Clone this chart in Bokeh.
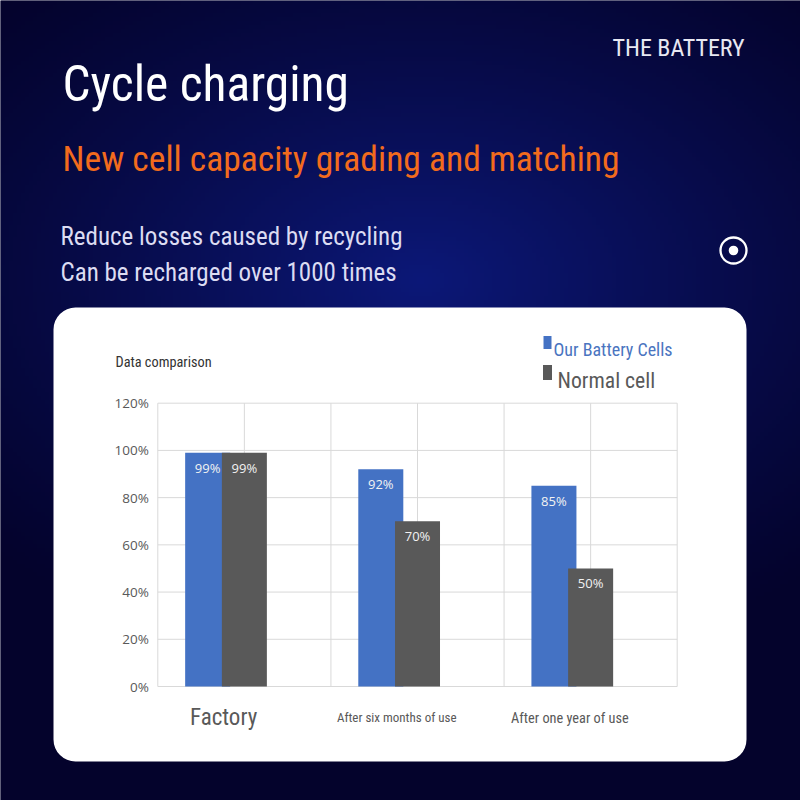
import numpy as np
from bokeh.plotting import figure
from bokeh.models import Range1d, BoxAnnotation, ColumnDataSource
from bokeh.core.properties import value
from bokeh.embed import file_html
from bokeh.resources import INLINE

# ---------------- data ----------------
categories = ["Factory", "After six months of use", "After one year of use"]
our_cells = [99, 92, 85]
normal_cells = [99, 70, 50]
series_names = ["Our Battery Cells", "Normal cell"]
y_ticks = [0, 20, 40, 60, 80, 100, 120]
y_tick_labels = ["0%", "20%", "40%", "60%", "80%", "100%", "120%"]

title = "Cycle charging"
subtitle = "New cell capacity grading and matching"
lines = ["Reduce losses caused by recycling", "Can be recharged over 1000 times"]
brand = "THE BATTERY"
chart_caption = "Data comparison"

# ---------------- layout ----------------
W = H = 800
NARROW = value("Roboto Condensed, DejaVu Sans Condensed, Liberation Sans Narrow, sans-serif")
SANS = value("Open Sans")


def py(y):
    """screen y (from top) -> data y of the page range"""
    return H - y


X0, X3 = 157.3, 676.7      # chart plot area left/right (px)
Y0, Y120 = 686.0, 402.7    # 0% and 120% lines (px from top)
cat_px = (X3 - X0) / len(categories)
pct_px = (Y0 - Y120) / 120.0

p = figure(width=W, height=H, x_range=Range1d(0, W), y_range=Range1d(0, H),
           output_backend="svg", toolbar_location=None, min_border=0,
           x_axis_location=None, y_axis_location=None)
p.grid.visible = False
p.outline_line_color = None
p.background_fill_color = "#05042e"
p.border_fill_color = "#05042e"
p.extra_x_ranges = {"cat": Range1d(-X0 / cat_px, len(categories) + (W - X3) / cat_px)}
p.extra_y_ranges = {"pct": Range1d(-(H - Y0) / pct_px, Y0 / pct_px)}

# background gradient
n = 200
yy, xx = np.mgrid[0:n, 0:n]
sx = (xx + 0.5) * W / n
sy = H - (yy + 0.5) * H / n
d = np.sqrt(((sx - 420) / 600.0) ** 2 + ((sy - 280) / 400.0) ** 2)
t = np.clip(1 - d, 0, 1) ** 1.2
edge = np.array([4, 3, 44])
center = np.array([12, 24, 120])
img = np.empty((n, n), dtype=np.uint32)
view = img.view(dtype=np.uint8).reshape((n, n, 4))
for k in range(3):
    view[:, :, k] = (edge[k] + (center[k] - edge[k]) * t).astype(np.uint8)
view[:, :, 3] = 255
p.image_rgba(image=[img], x=0, y=0, dw=W, dh=H, level="image")

# white rounded panel
p.add_layout(BoxAnnotation(left=53, right=746, top=py(307), bottom=py(761),
                           fill_color="white", fill_alpha=1.0, line_color=None,
                           border_radius=22, level="underlay"))

# header texts
p.text(x=[612], y=[py(47)], text=[brand], text_font=NARROW, text_font_size="24px",
       text_color="#e8e8f2", text_baseline="alphabetic")
p.text(x=[62], y=[py(83.5)], text=[title], text_font=NARROW, text_font_size="49.5px",
       text_color="#ffffff", text_baseline="alphabetic")
p.text(x=[62], y=[py(158.5)], text=[subtitle], text_font=NARROW, text_font_size="35.5px",
       text_color="#f26b1d", text_baseline="alphabetic")
p.text(x=[60, 60], y=[py(236), py(271.5)], text=lines, text_font=NARROW,
       text_font_size="25px", text_color="#dcdcf2", text_baseline="alphabetic")

# circle icon
p.circle(x=[733], y=[py(250)], radius=13, fill_color=None, line_color="white", line_width=2.3)
p.circle(x=[733], y=[py(250)], radius=4.8, fill_color="white", line_color=None)

# chart caption and legend
p.text(x=[115], y=[py(361)], text=[chart_caption], text_font=NARROW, text_font_size="14.3px",
       text_color="#333333", text_baseline="alphabetic")
legend_colors = ["#4472c4", "#595959"]
p.rect(x=[547, 547], y=[py(342), py(372)], width=[8, 9], height=[13, 15],
       fill_color=legend_colors, line_color=None)
p.text(x=[553, 557], y=[py(349), py(380)], text=series_names, text_font=NARROW,
       text_font_size=["18px", "21.7px"], text_color=["#4a74c0", "#595959"],
       text_baseline="alphabetic")

# grid
grid_kw = dict(x_range_name="cat", y_range_name="pct", line_color="#d9d9d9", line_width=1)
nc = len(categories)
p.segment(x0=[0] * len(y_ticks), x1=[nc] * len(y_ticks), y0=y_ticks, y1=y_ticks, **grid_kw)
vx = [i * 0.5 for i in range(2 * nc + 1)]
p.segment(x0=vx, x1=vx, y0=[0] * len(vx), y1=[y_ticks[-1]] * len(vx), **grid_kw)

# bars
idx = np.arange(nc)
src = ColumnDataSource(dict(
    xb=idx + 0.288, xg=idx + 0.5, xl=idx + 0.38,
    ours=our_cells, normal=normal_cells,
    ours_lbl=[f"{v}%" for v in our_cells], normal_lbl=[f"{v}%" for v in normal_cells],
    cat=categories, cat_size=["23px", "13px", "14.3px"],
))
p.vbar(x="xb", top="ours", bottom=0, width=0.26, source=src, fill_color=legend_colors[0],
       line_color=None, x_range_name="cat", y_range_name="pct")
p.vbar(x="xg", top="normal", bottom=0, width=0.26, source=src, fill_color=legend_colors[1],
       line_color=None, x_range_name="cat", y_range_name="pct")

# value labels
lbl_kw = dict(source=src, x_range_name="cat", y_range_name="pct", text_font=SANS,
              text_font_size="13px", text_color="#f2f2f2", text_align="center",
              text_baseline="middle", y_offset=15)
p.text(x="xb", y="ours", text="ours_lbl", **lbl_kw)
p.text(x="xg", y="normal", text="normal_lbl", **lbl_kw)

# y tick labels
p.text(x=[0] * len(y_ticks), y=y_ticks, text=y_tick_labels, x_range_name="cat",
       y_range_name="pct", text_font=SANS, text_font_size="13.5px", text_color="#595959",
       text_align="right", text_baseline="middle", x_offset=-9)

# category labels
p.text(x="xl", y=0, text="cat", source=src, x_range_name="cat", y_range_name="pct",
       text_font=NARROW, text_font_size="cat_size", text_color="#595959",
       text_align="center", text_baseline="middle", y_offset=31)

open("out.html", "w").write(file_html(p, INLINE))
